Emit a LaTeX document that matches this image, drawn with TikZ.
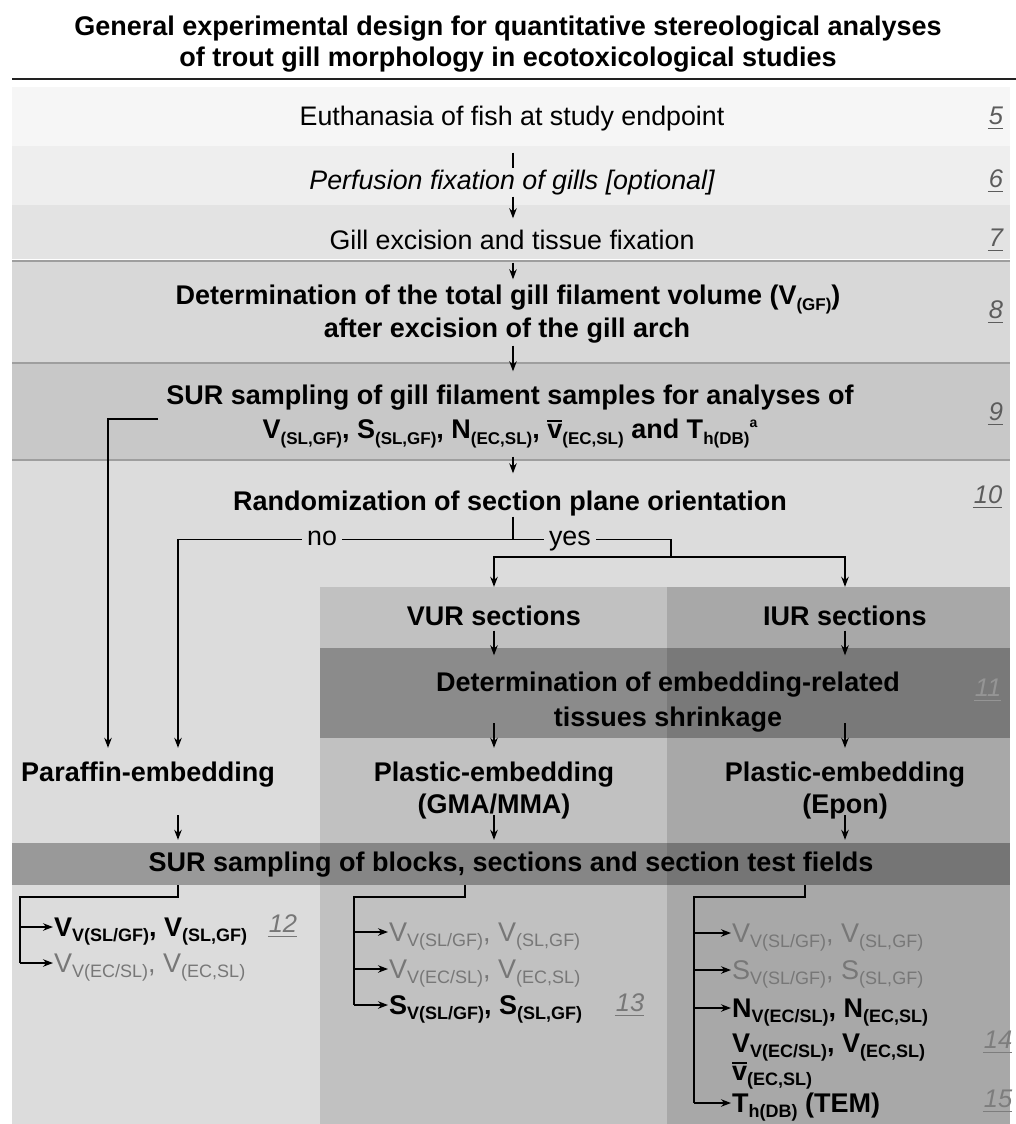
\documentclass[tikz,border=0pt]{standalone}
\usepackage{fontspec}
\setmainfont{Liberation Sans}
\usetikzlibrary{arrows.meta,calc}
\definecolor{bandA}{HTML}{F6F6F6}
\definecolor{bandB}{HTML}{EEEEEE}
\definecolor{bandC}{HTML}{E3E3E3}
\definecolor{bandD}{HTML}{D8D8D8}
\definecolor{bandE}{HTML}{C8C8C8}
\definecolor{bandF}{HTML}{DCDCDC}
\definecolor{colmid}{HTML}{C1C1C1}
\definecolor{colright}{HTML}{A8A8A8}
\definecolor{sepcol}{HTML}{9E9E9E}
\definecolor{numcol}{HTML}{5C5C5C}
\definecolor{numlight}{HTML}{959595}
\definecolor{graytext}{HTML}{777777}
\definecolor{rulecol}{HTML}{222222}
\newcommand\lo[1]{\raisebox{-0.22em}{\fontsize{17}{17}\selectfont #1}}
\newcommand\lob[1]{\raisebox{-0.2em}{\fontsize{18}{18}\selectfont #1}}
\newcommand\hi[1]{\raisebox{0.4em}{\fontsize{14}{14}\selectfont #1}}
\newcommand\vbar{\hbox{\setbox0=\hbox{v}\rlap{\rule[0.62em]{\wd0}{1.6pt}}\box0}}
\newcommand\ulnum[1]{\hbox{\setbox0=\hbox{#1}\rlap{\hspace{-1pt}\rule[-5pt]{\dimexpr\wd0+1pt}{1.6pt}}\box0}}
\begin{document}
\begin{tikzpicture}[x=1pt,y=-1pt,
  tx/.style={font=\fontsize{26.8}{31}\selectfont, inner sep=0pt, text height=19pt, text depth=6pt},
  bx/.style={tx, font=\fontsize{27}{31}\selectfont\bfseries},
  lt/.style={font=\fontsize{27}{31}\selectfont, inner sep=1pt, text height=19pt, text depth=0pt, anchor=west},
  lb/.style={lt, font=\fontsize{27}{31}\selectfont\bfseries},
  lg/.style={lt, text=graytext},
  num/.style={font=\fontsize{25.5}{25.5}\selectfont\itshape, text=numcol, inner sep=0pt},
  ln/.style={line width=1.3pt, draw=black},
  arr/.style={ln, -{Stealth[length=10pt,width=7.5pt]}},
  lbl/.style={tx, fill=bandF, inner xsep=5pt}]
\useasboundingbox (0,0) rectangle (1016,1124);
\fill[white] (0,0) rectangle (1016,1124);
% title
\node[font=\fontsize{27}{31.5}\selectfont\bfseries, align=center] (title) at (508,44)
  {General experimental design for quantitative stereological analyses\\of trout gill morphology in ecotoxicological studies};
\draw[line width=2pt, rulecol] (12,79) -- (1016,79);
% bands
\fill[bandA] (12,87) rectangle (1010,146);
\fill[bandB] (12,146) rectangle (1010,205);
\fill[bandC] (12,205) rectangle (1010,260);
\fill[bandD] (12,260) rectangle (1010,363);
\fill[bandE] (12,363) rectangle (1010,460);
\fill[bandF] (12,460) rectangle (1010,1124);
\fill[colmid] (320,587) rectangle (667,1124);
\fill[colright] (667,587) rectangle (1010,1124);
\fill[black, opacity=0.28] (320,648) rectangle (1010,738);
\fill[black, opacity=0.30] (12,843) rectangle (1010,885);
\draw[white, line width=1pt] (12,259) -- (1010,259);
\draw[sepcol, line width=1.2pt] (12,261) -- (1010,261);
\draw[sepcol, line width=1.2pt] (12,363) -- (1010,363);
\draw[sepcol, line width=1.2pt] (12,460) -- (1010,460);
% main trunk texts
\coordinate (ax) at (513,0);
\node[tx] (t5) at (512,119) {Euthanasia of fish at study endpoint};
\node[tx, font=\fontsize{26.8}{31}\selectfont\itshape] (t6) at (512,183) {Perfusion fixation of gills [optional]};
\node[tx] (t7) at (512,243) {Gill excision and tissue fixation};
\node[bx] (t8a) at (508,298) {Determination of the total gill filament volume (V\lo{(GF)})};
\node[bx] (t8b) at (507,331) {after excision of the gill arch};
\node[bx] (t9a) at (510,398) {SUR sampling of gill filament samples for analyses of};
\node[bx] (t9b) at (510,432) {V\lo{(SL,GF)}, S\lo{(SL,GF)}, N\lo{(EC,SL)}, \vbar\lo{(EC,SL)} and T\lo{h(DB)}\hi{a}};
\node[bx] (t10) at (510,504) {Randomization of section plane orientation};
% numbers
\node[num] (n5) at (996,118) {\ulnum{5}};
\node[num] (n6) at (996,181) {\ulnum{6}};
\node[num] (n7) at (996,240) {\ulnum{7}};
\node[num] (n8) at (996,312) {\ulnum{8}};
\node[num] (n9) at (996,414) {\ulnum{9}};
\node[num] (n10) at (988,497) {\ulnum{10}};
\node[num, text=numlight] (n11) at (988,690) {\ulnum{11}};
\node[num, text=graytext] (n12) at (283,926) {\ulnum{12}};
\node[num, text=graytext] (n13) at (630,1005) {\ulnum{13}};
\node[num, text=numcol!80] (n14) at (998,1042) {\ulnum{14}};
\node[num, text=numcol!80] (n15) at (998,1101) {\ulnum{15}};
% trunk arrows
\draw[ln] ($(ax|-t5.south)+(0,21)$) -- ($(ax|-t6.north)+(0,-2)$);
\draw[arr] ($(ax|-t6.south)+(0,1)$) -- ($(ax|-t7.north)+(0,-12)$);
\draw[arr] ($(ax|-t7.south)+(0,7)$) -- ($(ax|-t8a.north)+(0,-6)$);
\draw[arr] ($(ax|-t8b.south)+(0,2)$) -- ($(ax|-t9a.north)+(0,-14)$);
\draw[arr] ($(ax|-t9b.south)+(0,12)$) -- ($(ax|-t10.north)+(0,-18)$);
% lower section texts
\node[bx] (vur) at (494,619) {VUR sections};
\node[bx] (iur) at (845,619) {IUR sections};
\node[bx] (shra) at (668,685) {Determination of embedding-related};
\node[bx] (shrb) at (668,720) {tissues shrinkage};
\node[bx] (par) at (148,775) {Paraffin-embedding};
\node[bx] (pga) at (494,775) {Plastic-embedding};
\node[bx] (pgb) at (494,807) {(GMA/MMA)};
\node[bx] (pea) at (845,775) {Plastic-embedding};
\node[bx] (peb) at (845,807) {(Epon)};
\node[bx] (sur2) at (511,865) {SUR sampling of blocks, sections and section test fields};
% randomization branches
\coordinate (j10) at ($(ax|-t10.south)+(0,22.5)$);
\coordinate (j2) at (671,557);
\coordinate (s9) at (158,419);
\draw[ln] ($(ax|-t10.south)+(0,0)$) -- (j10);
\draw[arr] (j10) -| node[lbl, pos=0.285] {no} ($(par.north)+(30,-14.5)$);
\draw[ln] (j10) -| node[lbl, pos=0.18] {yes} (j2);
\draw[arr] (j2) -| ($(vur.north)+(0,-19.5)$);
\draw[arr] (j2) -| ($(iur.north)+(0,-19.5)$);
\draw[arr] (s9) -| ($(par.north)+(-40,-14.5)$);
% column arrows
\draw[arr] ($(vur.south)+(0,-1)$) -- ($(vur.south |- shra.north)+(0,-17)$);
\draw[arr] ($(iur.south)+(0,-1)$) -- ($(iur.south |- shra.north)+(0,-17)$);
\draw[arr] ($(vur |- shrb.south)+(0,-9.5)$) -- ($(pga.north)+(0,-14.5)$);
\draw[arr] ($(iur |- shrb.south)+(0,-9.5)$) -- ($(pea.north)+(0,-14.5)$);
\draw[arr] ($(par.south)+(30,27.5)$) -- ($(par.south |- sur2.north)+(30,-12.5)$);
\draw[arr] ($(pgb.south)+(0,-4.5)$) -- ($(pgb.south |- sur2.north)+(0,-12.5)$);
\draw[arr] ($(peb.south)+(0,-4.5)$) -- ($(peb.south |- sur2.north)+(0,-12.5)$);
% lists
\node[lb] (l1) at (53,927) {V\lob{V(SL/GF)}, V\lob{(SL,GF)}};
\node[lg] (l2) at (53,963) {V\lob{V(EC/SL)}, V\lob{(EC,SL)}};
\node[lg] (m1) at (388,932) {V\lob{V(SL/GF)}, V\lob{(SL,GF)}};
\node[lg] (m2) at (388,969) {V\lob{V(EC/SL)}, V\lob{(EC,SL)}};
\node[lb] (m3) at (388,1005) {S\lob{V(SL/GF)}, S\lob{(SL,GF)}};
\node[lg] (r1) at (731,933) {V\lob{V(SL/GF)}, V\lob{(SL,GF)}};
\node[lg] (r2) at (731,970) {S\lob{V(SL/GF)}, S\lob{(SL,GF)}};
\node[lb] (r3) at (731,1008) {N\lob{V(EC/SL)}, N\lob{(EC,SL)}};
\node[lb] (r4) at (731,1043) {V\lob{V(EC/SL)}, V\lob{(EC,SL)}};
\node[lb] (r5) at (731,1071) {\vbar\lob{(EC,SL)}};
\node[lb] (r6) at (731,1103) {T\lob{h(DB)} (TEM)};
\coordinate (tl) at (20,897);
\coordinate (tm) at (354,897);
\coordinate (tr) at (694,897);
\draw[ln] ($(par |- sur2.south)+(30,7.5)$) |- (tl) -- (tl |- l2.west);
\draw[arr] (tl |- l1.west) -- (l1.west);
\draw[arr] (tl |- l2.west) -- (l2.west);
\draw[ln] ($(pga |- sur2.south)+(-29,7.5)$) |- (tm) -- (tm |- m3.west);
\draw[arr] (tm |- m1.west) -- (m1.west);
\draw[arr] (tm |- m2.west) -- (m2.west);
\draw[arr] (tm |- m3.west) -- (m3.west);
\draw[ln] ($(pea |- sur2.south)+(-40,7.5)$) |- (tr) -- (tr |- r6.west);
\draw[arr] (tr |- r1.west) -- (r1.west);
\draw[arr] (tr |- r2.west) -- (r2.west);
\draw[arr] (tr |- r3.west) -- (r3.west);
\draw[arr] (tr |- r6.west) -- (r6.west);
\end{tikzpicture}
\end{document}
